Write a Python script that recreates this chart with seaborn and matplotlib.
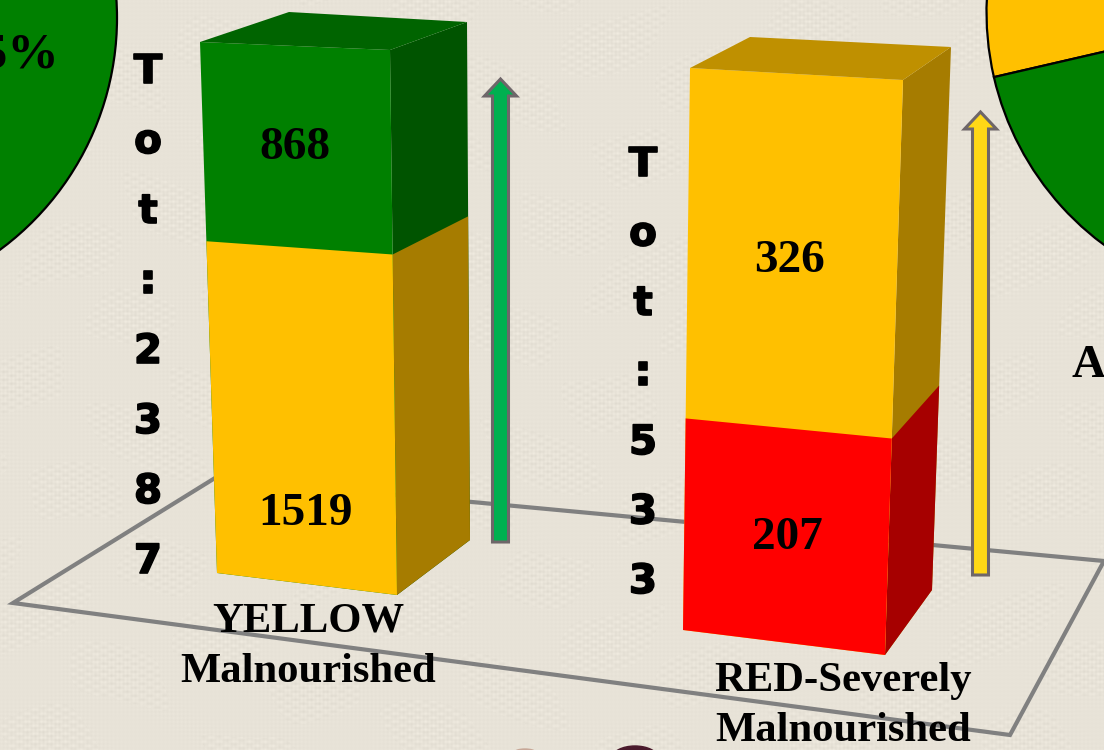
import numpy as np
import pandas as pd
import matplotlib.pyplot as plt
import matplotlib.patheffects as pe
from matplotlib.patches import Polygon, Ellipse
from matplotlib.transforms import Transform
import seaborn as sns

# data
categories = ['YELLOW\nMalnourished', 'RED-Severely\nMalnourished']
upper_values = [868, 326]
lower_values = [1519, 207]
upper_colors = ['#008000', '#FFC000']
lower_colors = ['#FFC000', '#FF0000']
upper_side = ['#005400', '#A67C00']
lower_side = ['#A67C00', '#A60000']
top_colors = ['#006400', '#BF9000']

left_pie_values = [75, 25]
right_pie_values = [35, 65]

W, H = 1104, 750

# corners of the drawn bars on the slide: bottom left, top left, bottom right, top right
front_quads = [[(217, 573), (200, 42), (397, 595), (390, 50)],
               [(683, 630), (690, 68), (885, 655), (903, 80)]]
side_quads = [[(397, 595), (390, 50), (470, 540), (467, 22)],
              [(885, 655), (903, 80), (932, 590), (951, 47)]]
top_quads = [[(200, 42), (390, 50), (467, 22), (289, 12)],
             [(690, 68), (903, 80), (951, 47), (750, 37)]]

# the slide's perspective squeezes the lower part of a bar a little
squeeze = 0.05


class QuadMap(Transform):
    # sends a bar of width 1 and height 0..1 onto a four cornered face
    input_dims = 2
    output_dims = 2

    def __init__(self, quad):
        super().__init__()
        self.quad = np.array(quad, dtype=float)

    def transform_non_affine(self, values):
        values = np.asarray(values, dtype=float)
        u = values[:, 0:1] + 0.5
        v = values[:, 1:2]
        v = v - squeeze * v * (1 - v)
        bl, tl, br, tr = self.quad
        left = bl + v * (tl - bl)
        right = br + v * (tr - br)
        return left + u * (right - left)


def draw_segment(ax, height, color, quad, ref_ax, zorder):
    n = len(ax.patches)
    df = pd.DataFrame({'bar': ['b'], 'share': [height]})
    sns.barplot(data=df, x='bar', y='share', color=color, saturation=1,
                width=1, linewidth=0, ax=ax)
    for p in ax.patches[n:]:
        p.set_transform(QuadMap(quad) + ref_ax.transData)
        p.set_clip_on(False)
        p.set_zorder(zorder)


def vertical_text(ax, label, x, y_start, step):
    for i, ch in enumerate(label):
        ax.text(x, y_start + i * step, ch, fontsize=29, fontweight='bold',
                family='DejaVu Sans', ha='center', va='center', color='black',
                path_effects=[pe.withStroke(linewidth=1.2, foreground='black')])


def weave_background():
    xx, yy = np.meshgrid(np.arange(W), np.arange(H))
    patch = np.sin(xx / 31.0 + np.sin(yy / 47.0)) * np.sin(yy / 19.0 + np.sin(xx / 53.0))
    threads = np.sin(xx * 1.57) * 0.5 + np.sin(yy * 1.57) * 0.5
    rows = np.sin(yy * 0.79 + np.sin(xx / 29.0)) * np.sin(xx * 0.41)
    shade = 4.5 * threads * (0.6 + 0.6 * patch) + 3.5 * rows * (patch > 0.1)
    base = np.array([232.0, 227.0, 216.0])
    return np.clip(base[None, None, :] + shade[:, :, None], 0, 255).astype(np.uint8)


sns.set_theme(style='white')
fig = plt.figure(figsize=(W / 100, H / 100), dpi=100)

back = fig.add_axes([0, 0, 1, 1], zorder=1)
bars = fig.add_axes([0, 0, 1, 1], zorder=2)
top = fig.add_axes([0, 0, 1, 1], zorder=3)
bars.patch.set_alpha(0)
top.patch.set_alpha(0)

back.imshow(weave_background(), extent=(0, W, H, 0), aspect='auto', interpolation='bilinear', zorder=0)

# the two pies that are cut by the slide edge
back.pie(left_pie_values, colors=['#008000', '#FFC000'], center=(-171, 18), radius=288, startangle=-135,
         wedgeprops={'edgecolor': 'black', 'linewidth': 1.6})
back.pie(right_pie_values, colors=['#FFC000', '#008000'], center=(1276, 12), radius=289.5, startangle=167,
         wedgeprops={'edgecolor': 'black', 'linewidth': 1.6})

# floor
floor = Polygon([(13, 603), (1010, 735), (1104, 561), (215, 478)], closed=True, fill=False,
                edgecolor='#808080', linewidth=3, joinstyle='miter', zorder=2)
back.add_patch(floor)

back.add_patch(Ellipse((635, 758), 46, 24, color='#4A1A2C', zorder=2))
back.add_patch(Ellipse((525, 752), 20, 6, color='#C8A898', zorder=2))

for i in range(len(categories)):
    total = upper_values[i] + lower_values[i]
    share = lower_values[i] / total
    # full height first, the lower part is painted over it
    draw_segment(bars, 1.0, upper_side[i], side_quads[i], back, 1)
    draw_segment(bars, share, lower_side[i], side_quads[i], back, 2)
    draw_segment(bars, 1.0, upper_colors[i], front_quads[i], back, 3)
    draw_segment(bars, share, lower_colors[i], front_quads[i], back, 4)
    top.add_patch(Polygon(top_quads[i], closed=True, facecolor=top_colors[i], linewidth=0))

bars.set_xlabel('')
bars.set_ylabel('')
bars.axis('off')

# arrows
top.arrow(500.5, 542, 0, -463, width=16, head_width=32, head_length=17, length_includes_head=True,
          facecolor='#00B050', edgecolor='#6E6669', linewidth=2.2, joinstyle='miter')
top.arrow(980.5, 575, 0, -463, width=16, head_width=32, head_length=17, length_includes_head=True,
          facecolor='#FFD816', edgecolor='#6E6669', linewidth=2.2, joinstyle='miter')

# texts
serif = 'Liberation Serif'
for label, x, y in [(upper_values[0], 295, 148), (lower_values[0], 305, 514),
                    (upper_values[1], 789, 261), (lower_values[1], 787, 538)]:
    top.text(x, y, str(label), fontsize=34, fontweight='bold', family=serif, ha='center', va='center', color='black')

top.text(308, 647, categories[0], fontsize=30.7, fontweight='bold', family=serif, ha='center', va='center',
         linespacing=1.44, color='black')
top.text(843, 706, categories[1], fontsize=30.7, fontweight='bold', family=serif, ha='center', va='center',
         linespacing=1.44, color='black')

vertical_text(top, 'Tot:' + str(upper_values[0] + lower_values[0]), 148, 72, 70)
vertical_text(top, 'Tot:' + str(upper_values[1] + lower_values[1]), 643, 165, 69.5)

top.text(59, 56, str(left_pie_values[0]) + '%', fontsize=37, fontweight='bold', family=serif, ha='right', va='center', color='black')
top.text(1072, 366, 'A', fontsize=34, fontweight='bold', family=serif, ha='left', va='center', color='black')

for ax in [back, top]:
    ax.set_xlim(0, W)
    ax.set_ylim(H, 0)
    ax.axis('off')

plt.savefig('out.png', dpi=100)
